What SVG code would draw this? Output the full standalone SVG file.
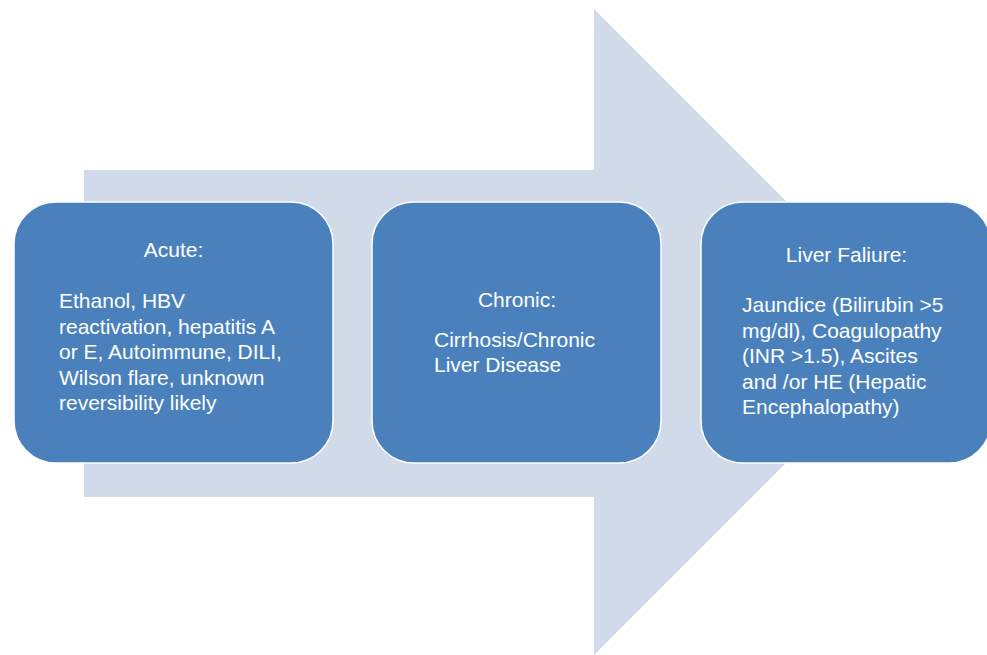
<svg xmlns="http://www.w3.org/2000/svg" width="987" height="655" viewBox="0 0 987 655">
<style>
.box{fill:#4a81bd;stroke:#ffffff;stroke-width:1.5}
.t{font-family:"Liberation Sans",Arial,sans-serif;font-size:21px;fill:#ffffff}
.c{text-anchor:middle}
</style>
<rect width="987" height="655" fill="#ffffff"/>
<g id="connectors">
<polygon points="84,170 594,170 594,9 917,332 594,655 594,497 84,497" fill="#d0dae9"/>
</g>
<g id="acute">
<rect class="box" x="14" y="202" width="319" height="261" rx="42" ry="42"/>
<text class="t c" x="173.5" y="257">Acute:</text>
<text class="t" x="59" y="308">Ethanol, HBV</text>
<text class="t" x="59" y="333.5">reactivation, hepatitis A</text>
<text class="t" x="59" y="359">or E, Autoimmune, DILI,</text>
<text class="t" x="59" y="384.5">Wilson flare, unknown</text>
<text class="t" x="59" y="410">reversibility likely</text>
</g>
<g id="chronic">
<rect class="box" x="372" y="202" width="289" height="261" rx="42" ry="42"/>
<text class="t c" x="517" y="307">Chronic:</text>
<text class="t" x="434" y="347">Cirrhosis/Chronic</text>
<text class="t" x="434" y="372">Liver Disease</text>
</g>
<g id="failure">
<rect class="box" x="701" y="202" width="290" height="261" rx="42" ry="42"/>
<text class="t c" x="846.5" y="262">Liver Faliure:</text>
<text class="t" x="742" y="312">Jaundice (Bilirubin &gt;5</text>
<text class="t" x="742" y="337.5">mg/dl), Coagulopathy</text>
<text class="t" x="742" y="363">(INR &gt;1.5), Ascites</text>
<text class="t" x="742" y="388.5">and /or HE (Hepatic</text>
<text class="t" x="742" y="414">Encephalopathy)</text>
</g>
</svg>
